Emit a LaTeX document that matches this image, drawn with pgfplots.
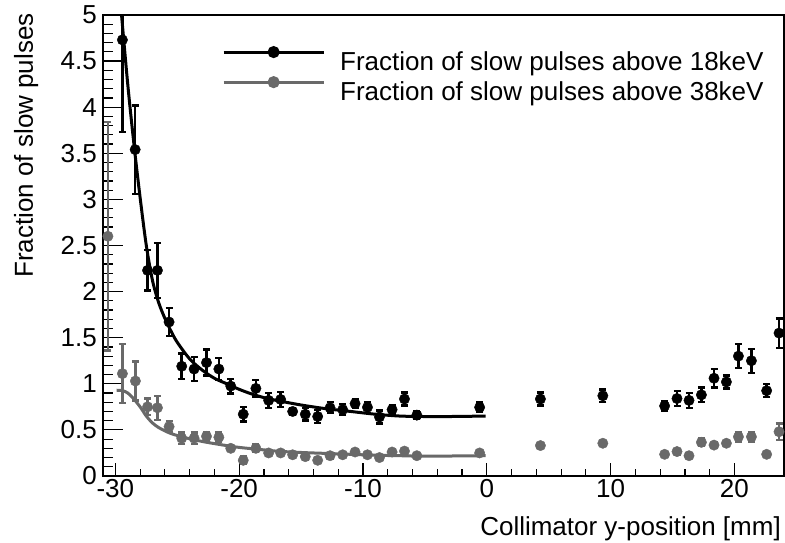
\documentclass[border=0pt]{standalone}
\usepackage{fontspec}
\setmainfont{Liberation Sans}
\usepackage{pgfplots}
\usepackage{pgfplotstable}
\pgfplotsset{compat=1.18}
\definecolor{rgray}{RGB}{105,105,105}

% measured points: position, fraction, error
\pgfplotstableread{
x y e
-29.43 4.73 1.00
-28.40 3.54 0.48
-27.40 2.23 0.22
-26.60 2.23 0.30
-25.66 1.67 0.15
-24.64 1.19 0.14
-23.64 1.16 0.13
-22.64 1.23 0.14
-21.64 1.16 0.12
-20.68 0.975 0.08
-19.67 0.67 0.08
-18.65 0.95 0.09
-17.62 0.82 0.08
-16.65 0.83 0.08
-15.68 0.70 0.04
-14.66 0.67 0.07
-13.66 0.645 0.07
-12.66 0.74 0.06
-11.64 0.72 0.06
-10.64 0.785 0.05
-9.64 0.745 0.06
-8.67 0.64 0.07
-7.65 0.72 0.05
-6.65 0.835 0.07
-5.65 0.66 0.04
-0.58 0.745 0.05
4.33 0.835 0.07
9.37 0.87 0.07
14.36 0.76 0.05
15.36 0.84 0.08
16.33 0.82 0.08
17.33 0.88 0.08
18.35 1.06 0.10
19.35 1.02 0.07
20.32 1.30 0.13
21.37 1.25 0.13
22.60 0.925 0.07
23.60 1.55 0.16
}\highdata

\pgfplotstableread{
x y e
-30.60 2.60 1.24
-29.43 1.11 0.32
-28.38 1.03 0.21
-27.40 0.75 0.09
-26.60 0.74 0.13
-25.66 0.535 0.06
-24.64 0.41 0.06
-23.64 0.41 0.06
-22.64 0.43 0.05
-21.64 0.42 0.05
-20.68 0.30 0.03
-19.67 0.17 0.04
-18.65 0.30 0.04
-17.62 0.25 0.03
-16.65 0.25 0.03
-15.68 0.23 0.03
-14.66 0.21 0.03
-13.66 0.17 0.02
-12.66 0.22 0.03
-11.64 0.23 0.02
-10.64 0.26 0.02
-9.64 0.23 0.02
-8.67 0.20 0.02
-7.65 0.26 0.02
-6.65 0.27 0.02
-5.65 0.22 0.02
-0.58 0.25 0.02
4.33 0.33 0.02
9.37 0.355 0.02
14.36 0.235 0.02
15.36 0.265 0.03
16.33 0.22 0.02
17.33 0.365 0.04
18.35 0.335 0.03
19.35 0.355 0.02
20.32 0.425 0.05
21.37 0.425 0.05
22.60 0.235 0.02
23.60 0.48 0.09
}\lowdata

% fitted curves
\pgfplotstableread{
x y
-29.5 5.0
-29.0 4.25
-28.5 3.6
-28.0 3.02
-27.5 2.5
-27.0 2.12
-26.5 1.88
-26.0 1.71
-25.5 1.57
-25.0 1.45
-24.0 1.27
-23.0 1.15
-22.0 1.06
-21.0 1.0
-20.0 0.94
-19.0 0.89
-18.0 0.85
-17.0 0.82
-15.0 0.77
-13.0 0.73
-11.0 0.70
-9.0 0.67
-7.0 0.65
-5.0 0.645
-3.0 0.645
-0.1 0.65
}\highfit

\pgfplotstableread{
x y
-29.9 0.93
-29.4 0.925
-29.0 0.90
-28.6 0.85
-28.0 0.75
-27.5 0.65
-27.0 0.575
-26.5 0.525
-26.0 0.49
-25.5 0.46
-24.5 0.42
-23.0 0.375
-21.5 0.34
-20.0 0.31
-18.5 0.29
-17.0 0.27
-15.0 0.255
-13.0 0.245
-11.0 0.235
-9.0 0.225
-7.0 0.22
-5.0 0.215
-0.1 0.22
}\lowfit

\begin{document}
\begin{tikzpicture}
\begin{axis}[
  scale only axis, width=681bp, height=461bp,
  xmin=-31, xmax=24, ymin=0, ymax=5,
  xtick={-30,-20,...,20}, ytick={0,0.5,...,5},
  minor x tick num=4, minor y tick num=4,
  tick align=inside, tick pos=left,
  major tick length=13bp, minor tick length=6.5bp,
  ytick style={/pgfplots/major tick length=20bp, /pgfplots/minor tick length=10bp},
  every tick/.style={black, line width=1.2bp},
  axis line style={line width=1.3bp},
  font=\fontsize{26bp}{31bp}\selectfont,
  /pgf/number format/assume math mode=true,
  yticklabel style={inner xsep=6bp},
  xlabel={Collimator y-position [mm]},
  ylabel={Fraction of slow pulses},
  every axis x label/.style={at={(rel axis cs:0.9956,-0.128)}, anchor=base east, inner sep=0pt},
  every axis y label/.style={at={(rel axis cs:-0.1028,1.004)}, anchor=base east, rotate=90, inner sep=0pt},
  legend style={at={(0.1747,0.933)}, anchor=north west, draw=none, fill=none,
    inner sep=0pt, nodes={inner sep=0pt}, row sep=4.6bp,
    /tikz/every odd column/.append style={column sep=15bp}},
  legend cell align=left,
  legend image code/.code={
    \draw[#1, line width=3bp] (0bp,9.3bp) -- (100bp,9.3bp);
    \fill[#1] (50bp,9.3bp) circle (4.5bp);},
]
\addplot[forget plot, only marks, mark=*, mark size=5.2bp, black,
  error bars/.cd, y dir=both, y explicit,
  error bar style={line width=2.6bp},
  error mark options={rotate=90, mark size=3.5bp, line width=2.4bp}]
  table[x=x, y=y, y error=e] {\highdata};
\addplot[black, line width=3bp, smooth, mark=none] table[x=x, y=y] {\highfit};
\addlegendentry{Fraction of slow pulses above 18keV}
\addplot[forget plot, only marks, mark=*, mark size=5.2bp, rgray,
  error bars/.cd, y dir=both, y explicit,
  error bar style={line width=2.6bp},
  error mark options={rotate=90, mark size=3.5bp, line width=2.4bp}]
  table[x=x, y=y, y error=e] {\lowdata};
\addplot[rgray, line width=3bp, smooth, mark=none] table[x=x, y=y] {\lowfit};
\addlegendentry{Fraction of slow pulses above 38keV}
\coordinate (bbl) at (rel axis cs:-0.1512,-0.1453);
\coordinate (btr) at (rel axis cs:1.0015,1.0325);
\end{axis}
\pgfresetboundingbox
\path (bbl) rectangle (btr);
\end{tikzpicture}
\end{document}
